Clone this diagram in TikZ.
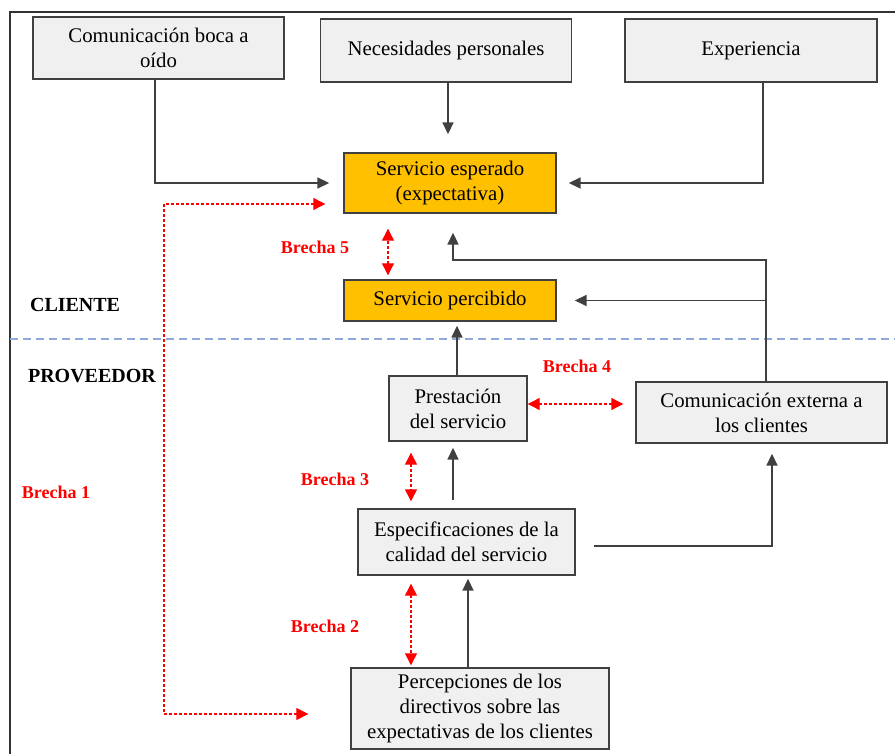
\documentclass[tikz,border=0pt]{standalone}
\usepackage{fontspec}
\setmainfont{Liberation Serif}
\usetikzlibrary{arrows.meta}
\definecolor{amarillo}{HTML}{FFC000}
\definecolor{azulclaro}{HTML}{8FAADC}
\begin{document}
\begin{tikzpicture}
  [x=0.5pt, y=-0.5pt,
   font=\fontsize{10.4}{12.5}\selectfont,
   caja/.style={draw=black!75, line width=0.7pt, fill=black!6, align=center, inner sep=2pt},
   amarilla/.style={caja, fill=amarillo},
   flecha/.style={draw=black!75, line width=0.8pt, -{Triangle[length=6pt,width=5.5pt]}},
   brecha/.style={draw=red, line width=0.6pt, dash pattern=on 1.5pt off 1pt,
     {Triangle[length=6pt,width=6pt]}-{Triangle[length=6pt,width=6pt]}},
   etiqueta/.style={text=red, font=\fontsize{9}{11}\selectfont\bfseries},
   lado/.style={anchor=west, font=\fontsize{10}{12}\selectfont\bfseries}]
  \useasboundingbox (0,0) rectangle (895,754);
  % marco
  \draw[black!80, line width=0.8pt] (10,754) -- (10,12) -- (895,12);
  % separacion cliente / proveedor
  \draw[azulclaro, line width=0.7pt, dash pattern=on 4pt off 2.5pt] (10,339) -- (895,339);
  \node[lado] (cliente) at (23,305) {CLIENTE};
  \node[lado] (proveedor) at (21,376) {PROVEEDOR};

  % cajas
  \node[caja, minimum width=125.5pt, minimum height=31pt] (boca) at (158.5,48) {Comunicación boca a\\oído};
  \node[caja, minimum width=125.5pt, minimum height=31.5pt] (necesidades) at (446,50.5) {Necesidades personales};
  \node[caja, minimum width=126pt, minimum height=31.5pt] (experiencia) at (751,50.5) {Experiencia};
  \node[amarilla, minimum width=106pt, minimum height=30pt] (esperado) at (450,183) {Servicio esperado\\(expectativa)};
  \node[amarilla, minimum width=106pt, minimum height=20.5pt] (percibido) at (450,300.5) {Servicio percibido};
  \node[caja, minimum width=69pt, minimum height=32.5pt] (prestacion) at (458,408.5) {Prestación\\del servicio};
  \node[caja, minimum width=125.5pt, minimum height=30.5pt] (externa) at (761.5,412.5) {Comunicación externa a\\los clientes};
  \node[caja, minimum width=108.5pt, minimum height=33pt] (especificaciones) at (466.5,542) {Especificaciones de la\\calidad del servicio};
  \node[caja, minimum width=129pt, minimum height=40.5pt] (percepciones) at (480,708.5) {Percepciones de los\\directivos sobre las\\expectativas de los clientes};

  % flechas
  \draw[flecha, shorten >=7pt] ([xshift=-1.75pt]boca.south) |- (esperado.west);
  \draw[flecha, shorten >=9pt] ([xshift=1pt]necesidades.south) -- ([xshift=1pt]necesidades.south |- esperado.north);
  \draw[flecha, shorten >=6pt] ([xshift=6pt]experiencia.south) |- (esperado.east);
  \coordinate (fb) at (766,260);
  \draw[flecha, shorten >=9.5pt] (externa.north -| fb) -- (fb) -| ([xshift=1.5pt]esperado.south);
  \draw[flecha, shorten >=9pt] (fb |- percibido) -- (percibido.east);
  \draw[flecha, shorten >=2pt] ([xshift=-0.5pt]prestacion.north) -- ([xshift=-0.5pt]prestacion.north |- percibido.south);
  \draw[flecha, shorten <=4pt, shorten >=3pt] ([xshift=-2.5pt]prestacion.south |- especificaciones.north) -- ([xshift=-2.5pt]prestacion.south);
  \draw[flecha, shorten <=9pt, shorten >=5pt] ([yshift=-2pt]especificaciones.east) -| ([xshift=5.25pt]externa.south);
  \draw[flecha, shorten >=1.5pt] ([xshift=-6pt]percepciones.north) -- ([xshift=-6pt]percepciones.north |- especificaciones.south);

  % brechas
  \coordinate (b1) at (164,460);
  \draw[brecha, shorten <=9pt, shorten >=21pt] ([yshift=-10.5pt]esperado.west) -| (b1) |- ([yshift=-2.75pt]percepciones.west);
  \node[etiqueta] (brecha1) at (56,492) {Brecha 1};
  \draw[brecha, shorten <=2pt, shorten >=7.5pt] ([xshift=-31pt]percibido.north) -- ([xshift=-31pt]esperado.south);
  \node[etiqueta] (brecha5) at (315,247) {Brecha 5};
  \draw[brecha, shorten >=6pt] ([yshift=2.25pt]prestacion.east) -- ([yshift=2.25pt]prestacion.east -| externa.west);
  \node[etiqueta] (brecha4) at (577,366) {Brecha 4};
  \draw[brecha, shorten <=5.5pt, shorten >=3.5pt] ([xshift=-23.5pt]prestacion.south) -- ([xshift=-23.5pt]prestacion.south |- especificaciones.north);
  \node[etiqueta] (brecha3) at (335,479) {Brecha 3};
  \draw[brecha, shorten <=4pt, shorten >=1pt] ([xshift=-27.75pt]especificaciones.south) -- ([xshift=-27.75pt]especificaciones.south |- percepciones.north);
  \node[etiqueta] (brecha2) at (325,626) {Brecha 2};
\end{tikzpicture}
\end{document}
